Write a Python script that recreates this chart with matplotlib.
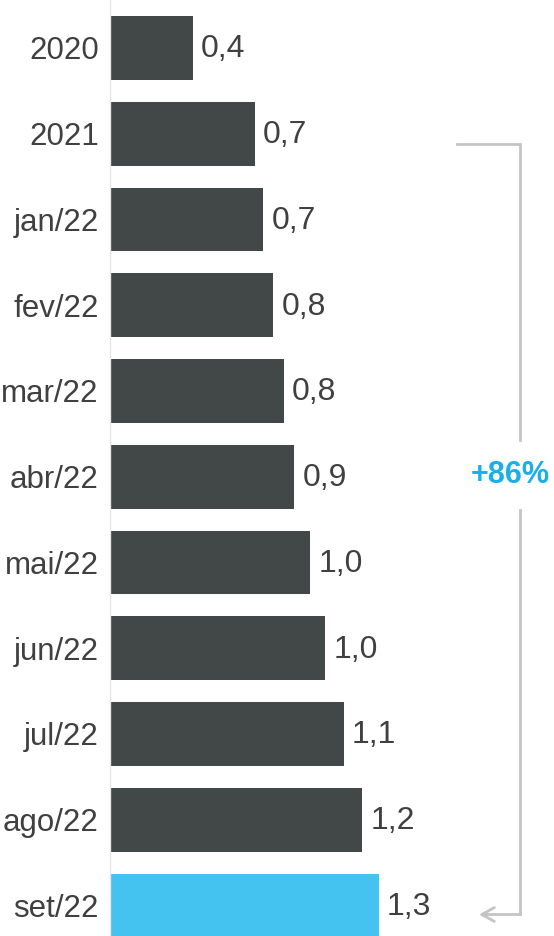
import matplotlib
matplotlib.use("Agg")
import matplotlib.pyplot as plt
import numpy as np

plt.rcParams['font.family'] = ['Liberation Sans', 'DejaVu Sans']

# dados
periodos = ["2020", "2021", "jan/22", "fev/22", "mar/22", "abr/22",
            "mai/22", "jun/22", "jul/22", "ago/22", "set/22"]
valores = [0.40, 0.70, 0.74, 0.79, 0.84, 0.89, 0.97, 1.04, 1.13, 1.22, 1.30]

cor_barra = "#424747"
cor_destaque = "#45c3f0"
cor_texto = "#404040"
cor_chave = "#c4c4c4"

W, H, DPI = 554, 936, 100
fig = plt.figure(figsize=(W / DPI, H / DPI), dpi=DPI)

# eixo começa em x=110px, 206.7 px por unidade, 85.75 px por linha
px_unid = 206.7
px_linha = 85.75
ax = fig.add_axes([110 / W, 0, 1 - 110 / W, 1])
ax.set_xlim(0, (W - 110) / px_unid)
ax.set_ylim((H - 48) / px_linha, -48 / px_linha)

y = np.arange(len(periodos))
cores = [cor_barra] * (len(valores) - 1) + [cor_destaque]
ax.barh(y, valores, height=0.746, color=cores)

for yi, v in zip(y, valores):
    ax.annotate(f"{v:.1f}".replace(".", ","), (v, yi), xytext=(6, -1),
                textcoords="offset points", ha="left", va="center",
                fontsize=23, color=cor_texto)

ax.set_yticks(y)
ax.set_yticklabels(periodos, fontsize=22.5, color=cor_texto)
ax.tick_params(axis="y", length=0, pad=8)
ax.set_xticks([])
for lado in ["top", "right", "bottom"]:
    ax.spines[lado].set_visible(False)
ax.spines["left"].set_color("#e6e6e6")
ax.spines["left"].set_linewidth(1)

# chave de variação 2021 -> set/22
ini, fim = 1, len(valores) - 1
variacao = (valores[fim] / valores[ini] - 1) * 100
x_ini = (457 - 110) / px_unid
x_lin = (520 - 110) / px_unid
x_seta = (479 - 110) / px_unid
y_top = ini + 10 / px_linha
y_bot = fim + 9 / px_linha
y_txt = 4.98
gap = 35 / px_linha

ax.plot([x_ini, x_lin, x_lin], [y_top, y_top, y_txt - gap],
        color=cor_chave, lw=2, solid_joinstyle="miter", clip_on=False)
ax.plot([x_lin, x_lin], [y_txt + gap, y_bot],
        color=cor_chave, lw=2, clip_on=False)
ax.annotate("", xy=(x_seta, y_bot), xytext=(x_lin + 0.004, y_bot),
            arrowprops=dict(arrowstyle="->,head_length=0.9,head_width=0.5",
                            color=cor_chave, lw=2, shrinkA=0, shrinkB=0),
            annotation_clip=False)
ax.text(x_lin - 10 / px_unid, y_txt, f"+{variacao:.0f}%", ha="center",
        va="center", fontsize=22, fontweight="bold", color="#1aafe6")

fig.savefig("out.png", dpi=DPI)
